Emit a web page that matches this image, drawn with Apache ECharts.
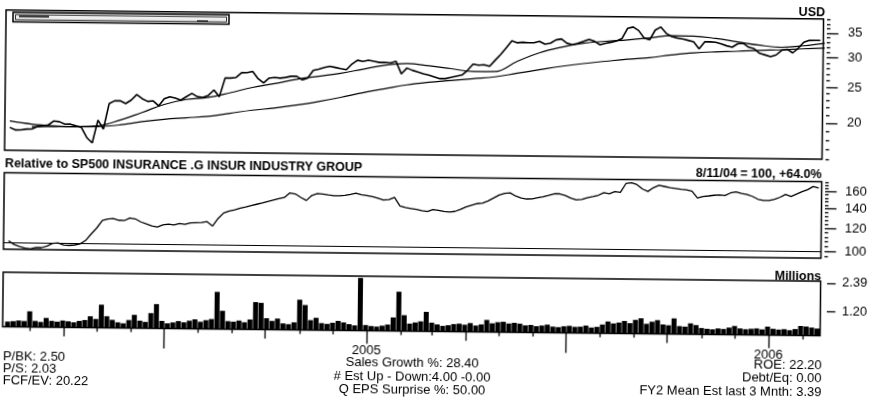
<!DOCTYPE html>
<html>
<head>
<meta charset="utf-8">
<script src="https://cdn.jsdelivr.net/npm/echarts@6/dist/echarts.min.js"></script>
<style>
html, body { margin: 0; padding: 0; background: #fff; overflow: hidden; }
/* the scan is tilted a little, so the whole chart is turned to match */
#chart { width: 877px; height: 406px; transform: rotate(0.63deg); }
</style>
</head>
<body>
<div id="chart"></div>
<script>
// closing price, one value every 5 days from day 40 (days counted from 1 Jan 2004)
var price = [
  18.42, 18.14, 18.15, 18.25, 18.26, 18.55, 18.65, 18.75, 19.23, 19.15,
  18.87, 18.88, 18.69, 18.51, 17.38, 16.82, 19.39, 18.35, 21.49, 21.89,
  21.90, 21.53, 22.01, 22.78, 22.22, 21.85, 21.93, 21.27, 22.24, 22.53,
  22.35, 22.07, 22.56, 23.04, 22.58, 22.49, 22.78, 23.56, 22.61, 25.40,
  25.41, 25.51, 26.29, 26.30, 26.50, 25.36, 24.70, 25.47, 25.58, 25.49,
  25.60, 25.80, 25.81, 25.24, 25.54, 26.80, 27.01, 27.31, 27.51, 27.33,
  27.14, 26.96, 27.94, 28.63, 28.44, 28.65, 28.47, 28.28, 28.29, 28.21,
  28.51, 26.38, 27.37, 26.99, 26.71, 26.42, 26.24, 25.96, 25.68, 25.68,
  25.89, 26.10, 26.30, 27.09, 28.17, 27.99, 28.09, 27.81, 28.90, 29.98,
  31.26, 32.64, 32.26, 32.37, 32.29, 32.30, 32.60, 32.03, 32.24, 32.93,
  33.14, 32.27, 31.99, 32.30, 32.70, 33.11, 32.73, 32.05, 32.36, 32.57,
  32.87, 33.38, 35.56, 35.86, 35.09, 33.53, 33.14, 35.23, 35.93, 34.56,
  33.88, 33.60, 33.41, 33.13, 32.84, 31.47, 32.87, 32.88, 32.80, 32.51,
  32.12, 31.84, 32.54, 32.66, 31.88, 31.59, 30.71, 30.42, 30.13, 30.44,
  31.35, 31.56, 30.87, 31.78, 32.99, 33.40, 33.41, 33.42
];
// relative strength (8/11/04 = 100), same days as price
var relative = [
  101.6, 98.7, 97.1, 96.1, 95.4, 96.6, 96.5, 97.8, 99.8, 100.3,
  98.7, 98.4, 98.8, 99.7, 102.5, 107.9, 113.1, 120.0, 121.5, 122.0,
  120.4, 120.2, 122.7, 121.8, 119.0, 117.2, 115.5, 114.6, 116.5, 117.3,
  116.6, 118.0, 117.2, 118.6, 118.9, 119.2, 120.0, 116.0, 123.1, 128.6,
  130.7, 132.0, 133.6, 135.1, 136.7, 138.1, 139.5, 141.3, 143.0, 144.6,
  146.0, 151.3, 150.2, 146.2, 142.9, 148.7, 151.0, 150.3, 149.4, 148.6,
  148.7, 149.3, 150.5, 151.8, 150.1, 149.3, 148.0, 146.2, 144.4, 145.0,
  147.4, 138.0, 136.4, 135.4, 134.4, 133.1, 132.4, 134.6, 133.8, 132.6,
  132.2, 132.8, 135.1, 137.6, 139.5, 141.4, 142.2, 144.6, 148.0, 151.6,
  153.7, 154.2, 150.6, 148.4, 147.3, 147.4, 148.8, 150.2, 151.9, 153.8,
  153.8, 151.9, 149.0, 146.8, 147.4, 149.6, 151.0, 152.6, 155.8, 154.6,
  157.2, 156.5, 167.7, 168.7, 166.5, 160.9, 157.9, 162.7, 165.8, 164.4,
  162.9, 162.0, 161.1, 160.5, 158.9, 150.7, 152.4, 153.2, 154.1, 154.6,
  153.9, 157.2, 158.5, 156.7, 155.6, 153.2, 149.9, 148.6, 148.6, 150.1,
  152.6, 156.0, 153.7, 156.8, 159.8, 162.3, 166.5, 164.5
];
// volume in millions, same days as price
var volume = [
  0.40, 0.42, 0.45, 0.43, 0.84, 0.44, 0.40, 0.57, 0.45, 0.42,
  0.47, 0.44, 0.40, 0.46, 0.50, 0.66, 0.55, 1.15, 0.67, 0.52,
  0.42, 0.38, 0.52, 0.74, 0.50, 0.45, 0.82, 1.20, 0.50, 0.40,
  0.44, 0.50, 0.45, 0.52, 0.58, 0.48, 0.55, 0.60, 1.74, 0.95,
  0.52, 0.50, 0.55, 0.48, 0.60, 1.33, 1.30, 0.66, 0.55, 0.65,
  0.45, 0.42, 0.50, 1.45, 1.23, 0.60, 0.70, 0.48, 0.45, 0.50,
  0.58, 0.52, 0.45, 0.40, 2.39, 0.42, 0.38, 0.36, 0.40, 0.45,
  0.75, 1.83, 0.85, 0.50, 0.55, 0.60, 1.00, 0.55, 0.48, 0.42,
  0.45, 0.50, 0.52, 0.48, 0.55, 0.45, 0.50, 0.69, 0.55, 0.60,
  0.62, 0.55, 0.58, 0.55, 0.48, 0.50, 0.45, 0.48, 0.52, 0.44,
  0.42, 0.46, 0.48, 0.44, 0.45, 0.50, 0.42, 0.45, 0.55, 0.68,
  0.60, 0.64, 0.71, 0.62, 0.76, 0.83, 0.60, 0.69, 0.76, 0.58,
  0.55, 0.84, 0.52, 0.50, 0.64, 0.57, 0.45, 0.42, 0.40, 0.44,
  0.42, 0.48, 0.55, 0.45, 0.42, 0.44, 0.46, 0.42, 0.54, 0.45,
  0.42, 0.44, 0.40, 0.45, 0.58, 0.56, 0.52, 0.48
];
// moving averages, one value every 20 days
var maShort = [
  18.54, 18.57, 18.60, 18.72, 19.42, 20.40, 21.47, 22.18, 22.50, 23.20,
  24.01, 24.62, 25.33, 25.85, 26.37, 27.09, 27.81, 28.14, 27.80, 27.35,
  26.90, 26.94, 28.74, 30.35, 31.48, 32.31, 32.75, 33.10, 33.54, 34.08,
  34.03, 33.59, 32.94, 32.30, 31.95, 32.29, 32.85
];
var maLong = [
  19.17, 18.83, 18.66, 18.60, 18.63, 18.85, 19.26, 19.57, 19.79, 20.01,
  20.42, 20.84, 21.16, 21.57, 22.09, 22.70, 23.41, 24.03, 24.65, 25.08,
  25.40, 25.73, 26.06, 26.69, 27.32, 27.95, 28.48, 28.92, 29.35, 29.69,
  30.23, 30.67, 30.91, 31.06, 31.30, 31.45, 31.70, 31.86
];
var priceTicks = [20, 25, 30, 35];
var relTicks = [100, 120, 140, 160];
var volTicks = [1.20, 2.39];

var startDay = 40, stepDays = 5;
var maShortStart = 60, maLongStart = 40, maStep = 20;

var DAY0 = Date.UTC(2004, 0, 1);
function dayOf(y, m) { return (Date.UTC(y, m, 1) - DAY0) / 864e5; }

var xMin = 35.5, xMax = 777.7;
var priceMin = 15.98, priceMax = 38.18;
var relMin = 95.0, relMax = 173.0;
var volMin = 0.183, volMax = 2.465;

var FONT = "'Liberation Sans', Arial, Helvetica, sans-serif";

function pairs(values, start, step, fn) {
  return values.map(function (v, i) { return [start + i * step, fn ? fn(v) : v]; });
}
function range(a, b, s) { var r = []; for (var v = a; v <= b; v += s) r.push(v); return r; }

// month ticks under the volume panel
var monthly = [], quarterly = [], july = [], january = [];
for (var k = 2; k <= 25; k++) {
  var yy = 2004 + Math.floor(k / 12), mm = k % 12, d = dayOf(yy, mm);
  if (mm === 0) january.push(d);
  else if (mm === 6) july.push(d);
  else if (mm === 3 || mm === 9) quarterly.push(d);
  else monthly.push(d);
}

function tickX(values, len, withLabels) {
  return {
    type: 'value', gridIndex: 2, position: 'bottom', min: xMin, max: xMax,
    axisLine: { show: false }, splitLine: { show: false },
    axisTick: { show: true, length: len, customValues: values, lineStyle: { color: '#000', width: 1.3 } },
    axisLabel: withLabels ? {
      show: true, customValues: values, margin: 13, color: '#000', fontSize: 13, fontFamily: FONT,
      formatter: function (v) { return String(new Date(DAY0 + v * 864e5).getUTCFullYear()); }
    } : { show: false }
  };
}
function hiddenX(grid) {
  return { type: 'value', gridIndex: grid, min: xMin, max: xMax, show: false };
}
function sideY(grid, min, max, offset, ticks, len, labels, fmt, margin) {
  return {
    type: 'value', gridIndex: grid, position: 'right', offset: offset, min: min, max: max,
    axisLine: { show: false }, splitLine: { show: false },
    axisTick: { show: true, length: len, customValues: ticks, lineStyle: { color: '#000', width: 1.3 } },
    axisLabel: labels ? {
      show: true, customValues: ticks, margin: margin, color: '#000', fontSize: 13, fontFamily: FONT, formatter: fmt
    } : { show: false }
  };
}
function txt(x, y, s, align, bold) {
  return {
    type: 'text', x: x, y: y, silent: true,
    style: {
      text: s, fill: '#000', font: (bold ? 'bold 12.5px ' : '13px ') + FONT,
      align: align, textAlign: align, verticalAlign: 'middle', textVerticalAlign: 'middle'
    }
  };
}

var lnLabel = function (v) { return String(Math.round(Math.exp(v))); };

var chart = echarts.init(document.getElementById('chart'));
var option = {
  animation: false,
  backgroundColor: '#fff',
  grid: [
    { left: 4, top: 14.8, width: 817.5, height: 140.2, show: true, borderColor: '#000', borderWidth: 1.5 },
    { left: 4, top: 177.5, width: 817.5, height: 76.5, show: true, borderColor: '#000', borderWidth: 1.5 },
    { left: 4, top: 277, width: 817.5, height: 54.5, show: true, borderColor: '#000', borderWidth: 1.5 },
    // twins of the price and relative panels, carrying only the small ticks
    { left: 4, top: 14.8, width: 817.5, height: 140.2, show: false },
    { left: 4, top: 177.5, width: 817.5, height: 76.5, show: false }
  ],
  xAxis: [
    hiddenX(0),
    hiddenX(1),
    tickX(monthly, 4, false),
    tickX(quarterly, 9, false),
    tickX(july, 20, false),
    tickX(january, 13, true),
    hiddenX(3),
    hiddenX(4)
  ],
  yAxis: [
    sideY(0, Math.log(priceMin), Math.log(priceMax), 6.5, priceTicks.map(Math.log), 8.5, true, lnLabel, 18),
    sideY(3, Math.log(priceMin), Math.log(priceMax), 3.5, range(16, 38, 1).map(Math.log), 3.5, false),
    sideY(1, Math.log(relMin), Math.log(relMax), 6.5, relTicks.map(Math.log), 8.5, true, lnLabel, 17),
    sideY(4, Math.log(relMin), Math.log(relMax), 3.5, range(96, 172, 4).map(Math.log), 3.5, false),
    sideY(2, volMin, volMax, 6.5, volTicks, 8.5, true, function (v) { return v.toFixed(2); }, 15)
  ],
  series: [
    {
      type: 'line', xAxisIndex: 0, yAxisIndex: 0, data: pairs(price, startDay, stepDays, Math.log),
      showSymbol: false, silent: true, lineStyle: { color: '#000', width: 1.6 }
    },
    {
      type: 'line', xAxisIndex: 0, yAxisIndex: 0, data: pairs(maShort, maShortStart, maStep, Math.log),
      smooth: 0.4, showSymbol: false, silent: true, lineStyle: { color: '#000', width: 1.2 }
    },
    {
      type: 'line', xAxisIndex: 0, yAxisIndex: 0, data: pairs(maLong, maLongStart, maStep, Math.log),
      smooth: 0.4, showSymbol: false, silent: true, lineStyle: { color: '#000', width: 1.2 }
    },
    {
      type: 'line', xAxisIndex: 1, yAxisIndex: 2, data: pairs(relative, startDay, stepDays, Math.log),
      showSymbol: false, silent: true, lineStyle: { color: '#000', width: 1.3 },
      markLine: {
        silent: true, symbol: ['none', 'none'], label: { show: false },
        lineStyle: { color: '#000', type: 'solid', width: 1.2 },
        data: [{ yAxis: Math.log(100) }]
      }
    },
    {
      type: 'bar', xAxisIndex: 2, yAxisIndex: 4, data: pairs(volume, startDay, stepDays),
      barWidth: 5, clip: true, silent: true, itemStyle: { color: '#000' }
    }
  ],
  graphic: [
    { type: 'rect', silent: true, shape: { x: 11, y: 17, width: 216, height: 9.5 }, style: { fill: '#eee', stroke: '#000', lineWidth: 1.5 } },
    { type: 'rect', silent: true, shape: { x: 13.5, y: 19.3, width: 211, height: 5 }, style: { fill: 'none', stroke: '#000', lineWidth: 0.8 } },
    { type: 'line', silent: true, shape: { x1: 17, y1: 21, x2: 47, y2: 21 }, style: { stroke: '#000', lineWidth: 1.5 } },
    { type: 'line', silent: true, shape: { x1: 195, y1: 23.5, x2: 206, y2: 23.5 }, style: { stroke: '#000', lineWidth: 1 } },
    txt(823, 8.4, 'USD', 'right', true),
    txt(4.6, 168.1, 'Relative to SP500 INSURANCE .G INSUR INDUSTRY GROUP', 'left', true),
    txt(821.4, 170.7, '8/11/04 = 100, +64.0%', 'right', true),
    txt(822, 272.7, 'Millions', 'right', true),
    txt(4.7, 361.2, 'P/BK: 2.50', 'left'),
    txt(4.7, 373.2, 'P/S: 2.03', 'left'),
    txt(4.7, 385.6, 'FCF/EV: 20.22', 'left'),
    txt(414, 363.6, 'Sales Growth %: 28.40', 'center'),
    txt(414, 377, '# Est Up - Down:4.00 -0.00', 'center'),
    txt(414, 390.3, 'Q EPS Surprise %: 50.00', 'center'),
    txt(823.5, 361.6, 'ROE: 22.20', 'right'),
    txt(823.5, 374.6, 'Debt/Eq: 0.00', 'right'),
    txt(823.5, 388.8, 'FY2 Mean Est last 3 Mnth: 3.39', 'right')
  ]
};
chart.setOption(option);
</script>
</body>
</html>
